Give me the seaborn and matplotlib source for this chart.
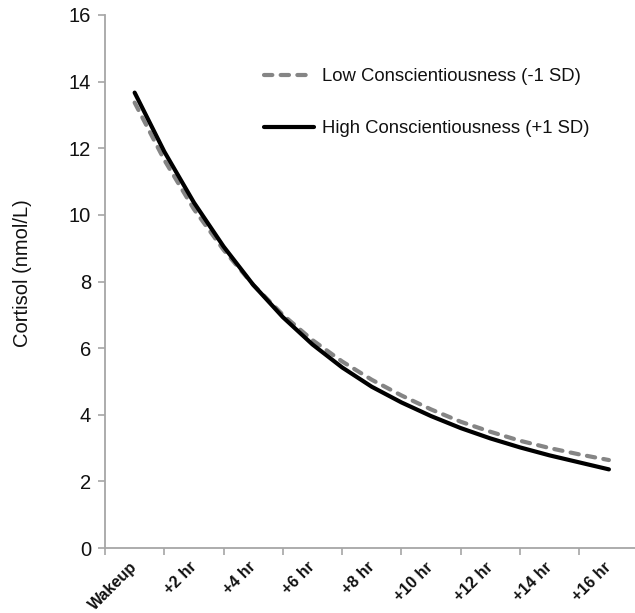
import matplotlib
matplotlib.use("Agg")
import matplotlib.pyplot as plt
import seaborn as sns
import pandas as pd
import numpy as np

hours = [0, 1, 2, 3, 4, 5, 6, 7, 8, 9, 10, 11, 12, 13, 14, 15, 16]
low_consc = [13.37, 11.65, 10.17, 8.95, 7.9, 7.0, 6.24, 5.6, 5.05, 4.58, 4.16, 3.79, 3.49, 3.22, 3.0, 2.81, 2.64]
high_consc = [13.67, 11.9, 10.37, 9.05, 7.9, 6.93, 6.11, 5.42, 4.84, 4.37, 3.96, 3.6, 3.29, 3.02, 2.78, 2.57, 2.36]
tick_hours = [0, 2, 4, 6, 8, 10, 12, 14, 16]
tick_labels = ["Wakeup", "+2 hr", "+4 hr", "+6 hr", "+8 hr", "+10 hr", "+12 hr", "+14 hr", "+16 hr"]
series_names = ["Low Conscientiousness (-1 SD)", "High Conscientiousness (+1 SD)"]

sns.set_style("white")
plt.rcParams['font.family'] = ['Liberation Sans', 'DejaVu Sans']

df = pd.DataFrame({
    "hour": hours * 2,
    "cortisol": low_consc + high_consc,
    "group": [series_names[0]] * len(hours) + [series_names[1]] * len(hours),
})

W, H = 635, 613
fig = plt.figure(figsize=(W / 100, H / 100), dpi=100)
ax = fig.add_axes([105 / W, (H - 548) / H, (W - 105) / W, 533 / H])

sns.lineplot(data=df, x="hour", y="cortisol", hue="group", style="group",
             palette={series_names[0]: "#858585", series_names[1]: "#000000"},
             dashes={series_names[0]: (2.0, 2.0), series_names[1]: ""},
             linewidth=3.0, ax=ax, legend=True)
for ln in ax.get_lines():
    ln.set_dash_capstyle("round")
    ln.set_solid_capstyle("round")
    ln.set_solid_joinstyle("round")

ax.set_xlim(-1, 16.88)
ax.set_ylim(0, 16)
ax.set_yticks(np.arange(0, 17, 2))
ax.set_xticks(tick_hours)
ax.set_xticklabels(tick_labels, rotation=45, ha="right", va="center",
                   rotation_mode="anchor", fontsize=11.5, fontweight="bold", color="#111111")
ax.set_xticks(np.arange(-1, 16, 2), minor=True)
ax.tick_params(axis="x", which="major", length=0, pad=12)
ax.tick_params(axis="x", which="minor", length=5, width=1.2, color="#a6a6a6", direction="out")
ax.tick_params(axis="y", length=5, width=1.2, color="#a6a6a6", direction="out",
               labelsize=14.5, labelcolor="#111111", pad=5)
ax.tick_params(bottom=True, left=True, which="both")
ax.set_xlabel("")
ax.set_ylabel("Cortisol (nmol/L)", fontsize=14.5, color="#111111")
ax.yaxis.set_label_coords((32 - 105) / (W - 105), (548 - 273) / 533)

for side in ["top", "right"]:
    ax.spines[side].set_visible(False)
for side in ["left", "bottom"]:
    ax.spines[side].set_color("#a6a6a6")
    ax.spines[side].set_linewidth(1.3)

handles, labels = ax.get_legend_handles_labels()
leg = ax.legend(handles, labels, loc="upper left",
                bbox_to_anchor=(255 / W, 1 - 59 / H), bbox_transform=fig.transFigure,
                frameon=False, fontsize=13.3, handlelength=2.7, handletextpad=0.45,
                labelspacing=1.9, borderpad=0)
for t in leg.get_texts():
    t.set_color("#111111")

fig.savefig("out.png", dpi=100)
